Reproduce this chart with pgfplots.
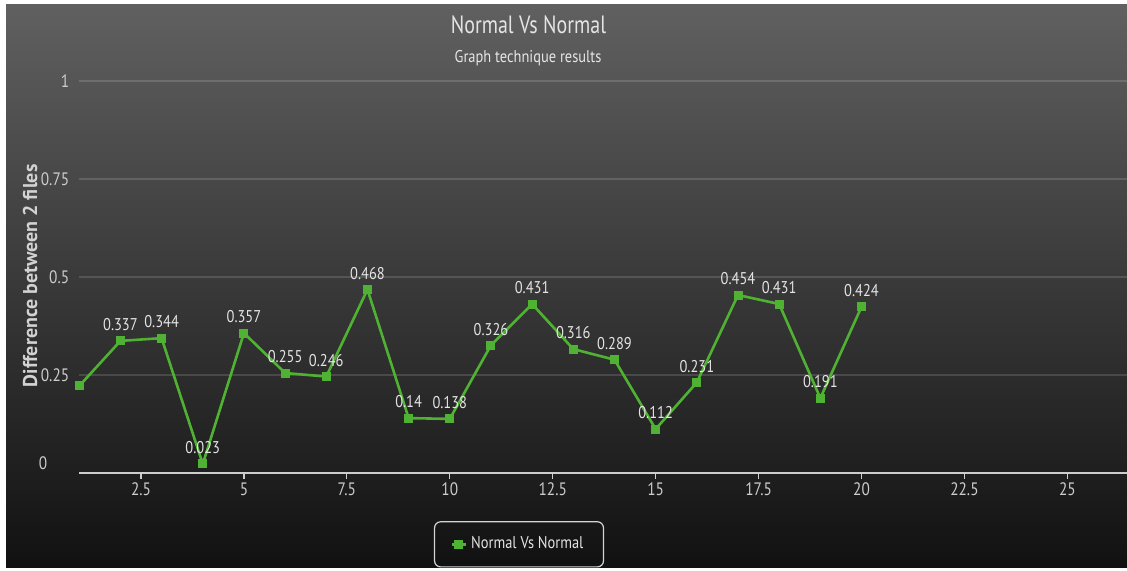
\documentclass[border=0pt]{standalone}
\usepackage{pgfplots}
\pgfplotsset{compat=1.18}
\usepackage{pgfplotstable}
\usepackage{fontspec}
\setmainfont{PT Sans}[FakeStretch=0.85]
\newfontfamily\labelfont{PT Sans}

\definecolor{linegreen}{RGB}{80,178,50}
\definecolor{txt}{RGB}{228,228,228}
\definecolor{ticktxt}{RGB}{205,205,205}
\definecolor{bgtop}{RGB}{96,96,96}
\definecolor{bgbot}{RGB}{17,17,17}

% x: sample index, y: difference, lab: printed value
\pgfplotstableread{
x y lab
1 0.222 {}
2 0.337 0.337
3 0.344 0.344
4 0.023 0.023
5 0.357 0.357
6 0.255 0.255
7 0.246 0.246
8 0.468 0.468
9 0.140 0.14
10 0.138 0.138
11 0.326 0.326
12 0.431 0.431
13 0.316 0.316
14 0.289 0.289
15 0.112 0.112
16 0.231 0.231
17 0.454 0.454
18 0.431 0.431
19 0.191 0.191
20 0.424 0.424
}\diffdata

\begin{document}
\begin{tikzpicture}[x=1pt,y=1pt]
\useasboundingbox (0,0) rectangle (563.5,285.5);
\fill[white] (0,0) rectangle (563.5,285.5);
\shade[top color=bgtop, bottom color=bgbot] (3,1.5) rectangle (563.5,283);
\begin{axis}[
  at={(39.63pt,49pt)}, anchor=south west,
  scale only axis, width=523.9pt, height=196pt,
  xmin=1, xmax=26.45, ymin=0, ymax=1,
  axis x line*=bottom, axis y line*=left,
  y axis line style={draw=none},
  x axis line style={draw=ticktxt, line width=1pt},
  xtick={2.5,5,7.5,10,12.5,15,17.5,20,22.5,25},
  ytick={0.25,0.5,0.75,1},
  extra y ticks={0},
  extra y tick style={ymajorgrids=false, yticklabel style={xshift=-11pt, yshift=5pt}},
  ytick style={draw=none},
  xtick style={draw=ticktxt, line width=0.6pt},
  major tick length=3pt, tick align=outside,
  ymajorgrids,
  grid style={white, opacity=0.14, line width=0.7pt},
  tick label style={font=\fontsize{9}{11}\selectfont, color=ticktxt},
  yticklabel style={xshift=1.5pt},
  xticklabel style={yshift=1.5pt},
  /pgf/number format/assume math mode=true,
  ylabel={Difference between 2 files},
  ylabel style={at={(axis description cs:-0.047,0.503)}, anchor=center,
    font=\labelfont\bfseries\fontsize{10}{12}\selectfont, color=ticktxt!90},
  legend style={at={(axis description cs:0.4197,-0.182)}, anchor=center,
    draw=ticktxt!85, fill=none, rounded corners=3pt, text=txt,
    font=\fontsize{8.5}{10}\selectfont, inner xsep=8pt, inner ysep=5.5pt,
    line width=0.6pt},
  legend image code/.code={\draw[mark repeat=2,mark phase=2]
    plot coordinates {(0pt,0pt)(3.5pt,0pt)(7pt,0pt)};},
  clip=false,
]
\addplot[color=linegreen, line width=1.3pt, mark=square*, mark size=1.6pt,
  mark options={fill=linegreen, draw=linegreen},
  point meta=explicit symbolic,
  nodes near coords={\pgfplotspointmeta},
  every node near coord/.append style={font=\fontsize{8.5}{10}\selectfont,
    text=txt, yshift=1pt}]
  table[x=x, y=y, meta=lab] {\diffdata};
\addlegendentry{Normal Vs Normal}
\end{axis}
\node[font=\fontsize{12.5}{14}\selectfont, text=txt, xscale=0.94] at (264.25,273) {Normal Vs Normal};
\node[font=\fontsize{8.5}{10}\selectfont, text=txt!92] at (264,256.5) {Graph technique results};
\end{tikzpicture}
\end{document}
